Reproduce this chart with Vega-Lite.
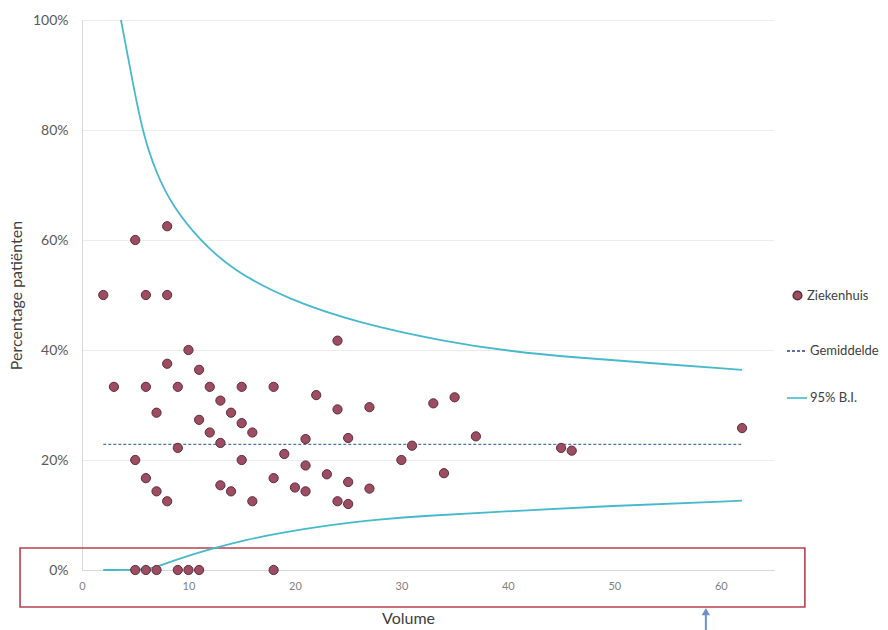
{
  "$schema": "https://vega.github.io/schema/vega-lite/v6.json",
  "width": 692,
  "height": 550,
  "autosize": {"type": "none"},
  "padding": {"left": 82, "top": 20, "right": 114, "bottom": 60},
  "background": "white",
  "config": {
    "view": {"stroke": null},
    "font": "Lato",
    "legend": {
      "orient": "none",
      "title": null,
      "padding": 0,
      "labelFont": "Lato",
      "labelFontSize": 13,
      "labelColor": "#404040",
      "symbolOpacity": 1
    }
  },
  "datasets": {
    "ziekenhuizen": [
      {"volume": 5, "pct": 0}, {"volume": 6, "pct": 0}, {"volume": 7, "pct": 0},
      {"volume": 9, "pct": 0}, {"volume": 10, "pct": 0}, {"volume": 11, "pct": 0},
      {"volume": 18, "pct": 0},
      {"volume": 2, "pct": 0.5}, {"volume": 6, "pct": 0.5}, {"volume": 8, "pct": 0.5},
      {"volume": 5, "pct": 0.6}, {"volume": 8, "pct": 0.625},
      {"volume": 10, "pct": 0.4}, {"volume": 8, "pct": 0.375}, {"volume": 11, "pct": 0.364},
      {"volume": 3, "pct": 0.333}, {"volume": 6, "pct": 0.333}, {"volume": 9, "pct": 0.333},
      {"volume": 12, "pct": 0.333}, {"volume": 15, "pct": 0.333}, {"volume": 18, "pct": 0.333},
      {"volume": 13, "pct": 0.308}, {"volume": 7, "pct": 0.286}, {"volume": 14, "pct": 0.286},
      {"volume": 11, "pct": 0.273}, {"volume": 15, "pct": 0.267}, {"volume": 12, "pct": 0.25},
      {"volume": 16, "pct": 0.25}, {"volume": 13, "pct": 0.231}, {"volume": 9, "pct": 0.222},
      {"volume": 19, "pct": 0.211}, {"volume": 5, "pct": 0.2}, {"volume": 15, "pct": 0.2},
      {"volume": 6, "pct": 0.167}, {"volume": 18, "pct": 0.167}, {"volume": 7, "pct": 0.143},
      {"volume": 13, "pct": 0.154}, {"volume": 14, "pct": 0.143}, {"volume": 8, "pct": 0.125},
      {"volume": 16, "pct": 0.125},
      {"volume": 24, "pct": 0.417}, {"volume": 22, "pct": 0.318}, {"volume": 24, "pct": 0.292},
      {"volume": 27, "pct": 0.296}, {"volume": 33, "pct": 0.303}, {"volume": 35, "pct": 0.314},
      {"volume": 21, "pct": 0.238}, {"volume": 25, "pct": 0.24}, {"volume": 31, "pct": 0.226},
      {"volume": 30, "pct": 0.2}, {"volume": 21, "pct": 0.19}, {"volume": 23, "pct": 0.174},
      {"volume": 25, "pct": 0.16}, {"volume": 34, "pct": 0.176}, {"volume": 20, "pct": 0.15},
      {"volume": 21, "pct": 0.143}, {"volume": 27, "pct": 0.148}, {"volume": 24, "pct": 0.125},
      {"volume": 25, "pct": 0.12}, {"volume": 37, "pct": 0.243}, {"volume": 45, "pct": 0.222},
      {"volume": 46, "pct": 0.217}, {"volume": 62, "pct": 0.258}
    ],
    "grenzen": [
      {"grens": "boven", "volume": 3.66, "pct": 1.0},
      {"grens": "boven", "volume": 4.78, "pct": 0.885},
      {"grens": "boven", "volume": 5.72, "pct": 0.794},
      {"grens": "boven", "volume": 6.97, "pct": 0.721},
      {"grens": "boven", "volume": 8.53, "pct": 0.661},
      {"grens": "boven", "volume": 11.03, "pct": 0.6},
      {"grens": "boven", "volume": 14.16, "pct": 0.545},
      {"grens": "boven", "volume": 19.47, "pct": 0.491},
      {"grens": "boven", "volume": 26, "pct": 0.449},
      {"grens": "boven", "volume": 34.15, "pct": 0.415},
      {"grens": "boven", "volume": 40.4, "pct": 0.397},
      {"grens": "boven", "volume": 46.6, "pct": 0.386},
      {"grens": "boven", "volume": 52.9, "pct": 0.377},
      {"grens": "boven", "volume": 62, "pct": 0.364},
      {"grens": "onder", "volume": 2, "pct": 0},
      {"grens": "onder", "volume": 6.3, "pct": 0},
      {"grens": "onder", "volume": 7.6, "pct": 0.01},
      {"grens": "onder", "volume": 9.16, "pct": 0.021},
      {"grens": "onder", "volume": 12.25, "pct": 0.039},
      {"grens": "onder", "volume": 15.4, "pct": 0.055},
      {"grens": "onder", "volume": 18.5, "pct": 0.067},
      {"grens": "onder", "volume": 23.2, "pct": 0.082},
      {"grens": "onder", "volume": 27.9, "pct": 0.092},
      {"grens": "onder", "volume": 32.6, "pct": 0.099},
      {"grens": "onder", "volume": 37.3, "pct": 0.104},
      {"grens": "onder", "volume": 50, "pct": 0.117},
      {"grens": "onder", "volume": 62, "pct": 0.126}
    ],
    "gemiddelde": [
      {"volume": 2, "pct": 0.2285},
      {"volume": 62, "pct": 0.2285}
    ],
    "kader": [
      {"volume": -5.82, "volume2": 67.9, "pct": 0.04, "pct2": -0.0673}
    ],
    "pijl": [
      {"volume": 58.6, "pct": -0.08, "pct2": -0.115}
    ],
    "pijlpunt": [
      {"volume": 58.6, "pct": -0.0755}
    ]
  },
  "encoding": {
    "x": {
      "field": "volume",
      "type": "quantitative",
      "scale": {"domain": [0, 65], "nice": false, "zero": false},
      "axis": {
        "values": [0, 10, 20, 30, 40, 50, 60],
        "grid": false,
        "ticks": false,
        "labelFlush": false,
        "labelFontSize": 11,
        "labelColor": "#7f7f7f",
        "labelPadding": 10,
        "domainColor": "#d9d9d9",
        "title": "Volume",
        "titleFontSize": 16,
        "titleFontWeight": "normal",
        "titleColor": "#404040",
        "titleX": 326,
        "titleY": 40
      }
    },
    "y": {
      "field": "pct",
      "type": "quantitative",
      "scale": {"domain": [0, 1], "nice": false, "zero": false},
      "axis": {
        "values": [0, 0.2, 0.4, 0.6, 0.8, 1],
        "format": ".0%",
        "grid": true,
        "gridColor": "#ececec",
        "domainColor": "#d9d9d9",
        "ticks": false,
        "labelFlush": false,
        "labelPadding": 14,
        "labelFontSize": 14,
        "labelColor": "#595959",
        "title": "Percentage patiënten",
        "titleFontSize": 16,
        "titleFontWeight": "normal",
        "titleColor": "#404040",
        "titleX": -58,
        "titleY": 275
      }
    }
  },
  "layer": [
    {
      "data": {"name": "kader"},
      "mark": {"type": "rect", "filled": false, "color": "#b8404f", "strokeWidth": 1.6},
      "encoding": {
        "x2": {"field": "volume2"},
        "y2": {"field": "pct2"}
      }
    },
    {
      "data": {"name": "grenzen"},
      "mark": {"type": "line", "strokeWidth": 1.8, "interpolate": "basis"},
      "encoding": {
        "detail": {"field": "grens", "type": "nominal"},
        "stroke": {
          "datum": "95% B.I.",
          "scale": {"domain": ["95% B.I."], "range": ["#47b9cc"]},
          "legend": {
            "legendX": 704,
            "legendY": 367,
            "symbolType": "stroke",
            "symbolSize": 400,
            "symbolStrokeWidth": 1.6,
            "labelOffset": 2
          }
        }
      }
    },
    {
      "data": {"name": "gemiddelde"},
      "mark": {"type": "line", "strokeWidth": 1.3, "strokeDash": [4, 3]},
      "encoding": {
        "strokeDash": {
          "datum": "Gemiddelde",
          "scale": {"domain": ["Gemiddelde"], "range": [[3, 2]]},
          "legend": {
            "legendX": 704,
            "legendY": 320,
            "symbolType": "stroke",
            "symbolSize": 400,
            "symbolStrokeColor": "#2f3d7d",
            "symbolStrokeWidth": 1.4,
            "labelOffset": 2
          }
        }
      }
    },
    {
      "data": {"name": "ziekenhuizen"},
      "mark": {"type": "point", "shape": "circle", "filled": true, "size": 85, "opacity": 1, "stroke": "#5e2b3b", "strokeWidth": 1},
      "encoding": {
        "fill": {
          "datum": "Ziekenhuis",
          "scale": {"domain": ["Ziekenhuis"], "range": ["#9c4d62"]},
          "legend": {
            "legendX": 709,
            "legendY": 269,
            "symbolType": "circle",
            "symbolSize": 75,
            "labelOffset": 3
          }
        }
      }
    },
    {
      "data": {"name": "pijl"},
      "mark": {"type": "rule", "color": "#7090cc", "strokeWidth": 2},
      "encoding": {
        "y2": {"field": "pct2"}
      }
    },
    {
      "data": {"name": "pijlpunt"},
      "mark": {"type": "point", "shape": "triangle-up", "filled": true, "size": 70, "opacity": 1, "color": "#7090cc"},
      "encoding": {}
    }
  ]
}
